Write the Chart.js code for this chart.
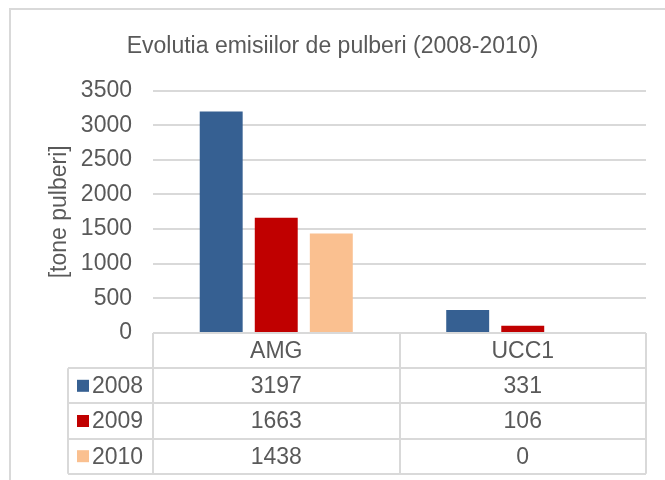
<!DOCTYPE html>
<html>
<head>
<meta charset="utf-8">
<script src="https://cdn.jsdelivr.net/npm/chart.js@4.4.1/dist/chart.umd.min.js"></script>
<style>
  html, body { margin: 0; padding: 0; background: #ffffff; }
  #wrap { position: relative; width: 665px; height: 480px; overflow: hidden; }
  #frame { position: absolute; left: 9px; top: 8px; width: 680px; height: 500px;
           border: 2px solid #d9d9d9; box-sizing: border-box; pointer-events: none; }
  canvas { position: absolute; left: 0; top: 0; }
</style>
</head>
<body>
<div id="wrap">
  <canvas id="chart" width="665" height="480"></canvas>
  <div id="frame"></div>
</div>
<script>
// Emissions of particulate matter per installation, tonnes
const categories = ['AMG', 'UCC1'];
const seriesNames = ['2008', '2009', '2010'];
const values2008 = [3197, 331];
const values2009 = [1663, 106];
const values2010 = [1438, 0];
const yTicks = [0, 500, 1000, 1500, 2000, 2500, 3000, 3500];

const seriesValues = [values2008, values2009, values2010];
const seriesColors = ['#366092', '#C00000', '#FAC090'];

const FONT = 'Liberation Sans, Arial, sans-serif';
const FSIZE = 23;
const TEXT = '#595959';
const LINE = '#d9d9d9';

// Data table drawn under the plot, aligned on the category scale
const dataTable = {
  id: 'dataTable',
  afterDraw(chart) {
    const ctx = chart.ctx;
    const x = chart.scales.x;
    const area = chart.chartArea;
    const n = categories.length;
    const step = (area.right - area.left) / n;
    const legendLeft = 68;
    const rowH = 35.2;
    const top = area.bottom;
    const rows = seriesNames.length;
    const bottom = top + rowH * (rows + 1);

    ctx.save();
    ctx.strokeStyle = LINE;
    ctx.lineWidth = 2;
    ctx.beginPath();
    // header row top border
    ctx.moveTo(area.left, top); ctx.lineTo(area.right, top);
    // series row borders
    for (let r = 1; r <= rows + 1; r++) {
      const yy = Math.round(top + rowH * r);
      ctx.moveTo(legendLeft, yy); ctx.lineTo(area.right, yy);
    }
    // vertical borders
    for (let c = 0; c <= n; c++) {
      const xx = Math.round(area.left + step * c);
      ctx.moveTo(xx, top); ctx.lineTo(xx, bottom);
    }
    ctx.moveTo(legendLeft, top + rowH); ctx.lineTo(legendLeft, bottom);
    ctx.stroke();

    ctx.font = FSIZE + 'px ' + FONT;
    ctx.fillStyle = TEXT;
    ctx.textAlign = 'center';
    ctx.textBaseline = 'middle';
    categories.forEach((cat, i) => {
      ctx.fillText(cat, x.getPixelForValue(i), top + rowH / 2 + 1);
    });
    seriesNames.forEach((name, r) => {
      const cy = top + rowH * (r + 1) + rowH / 2 + 1;
      ctx.fillStyle = seriesColors[r];
      ctx.fillRect(legendLeft + 9, cy - 7, 12, 12);
      ctx.fillStyle = TEXT;
      ctx.textAlign = 'left';
      ctx.fillText(name, legendLeft + 24, cy);
      ctx.textAlign = 'center';
      seriesValues[r].forEach((v, i) => {
        ctx.fillText(String(v), x.getPixelForValue(i), cy);
      });
    });
    ctx.restore();
  }
};

new Chart(document.getElementById('chart'), {
  type: 'bar',
  data: {
    labels: categories,
    datasets: seriesNames.map((name, i) => ({
      label: name,
      data: seriesValues[i],
      backgroundColor: seriesColors[i],
      borderWidth: 0,
      categoryPercentage: 0.67,
      barPercentage: 0.78
    }))
  },
  options: {
    responsive: false,
    animation: false,
    devicePixelRatio: 1,
    layout: { padding: { left: 19, right: 19, top: 0, bottom: 147 } },
    plugins: {
      legend: { display: false },
      tooltip: { enabled: false },
      title: {
        display: true,
        text: 'Evolutia emisiilor de pulberi (2008-2010)',
        color: TEXT,
        font: { family: FONT, size: FSIZE, weight: 'normal' },
        padding: { top: 33, bottom: 30 }
      }
    },
    scales: {
      x: { display: false },
      y: {
        min: 0,
        max: 3500,
        afterBuildTicks(scale) { scale.ticks = yTicks.map(v => ({ value: v })); },
        afterFit(scale) { scale.width = 134; },
        border: { display: false },
        grid: { color: LINE, lineWidth: 2, drawTicks: false },
        ticks: {
          color: TEXT,
          padding: 21,
          font: { family: FONT, size: FSIZE },
          callback: (v) => String(v)
        },
        title: {
          display: true,
          text: '[tone pulberi]',
          color: TEXT,
          font: { family: FONT, size: FSIZE },
          padding: { top: 27, bottom: 0 }
        }
      }
    }
  },
  plugins: [dataTable]
});
</script>
</body>
</html>
